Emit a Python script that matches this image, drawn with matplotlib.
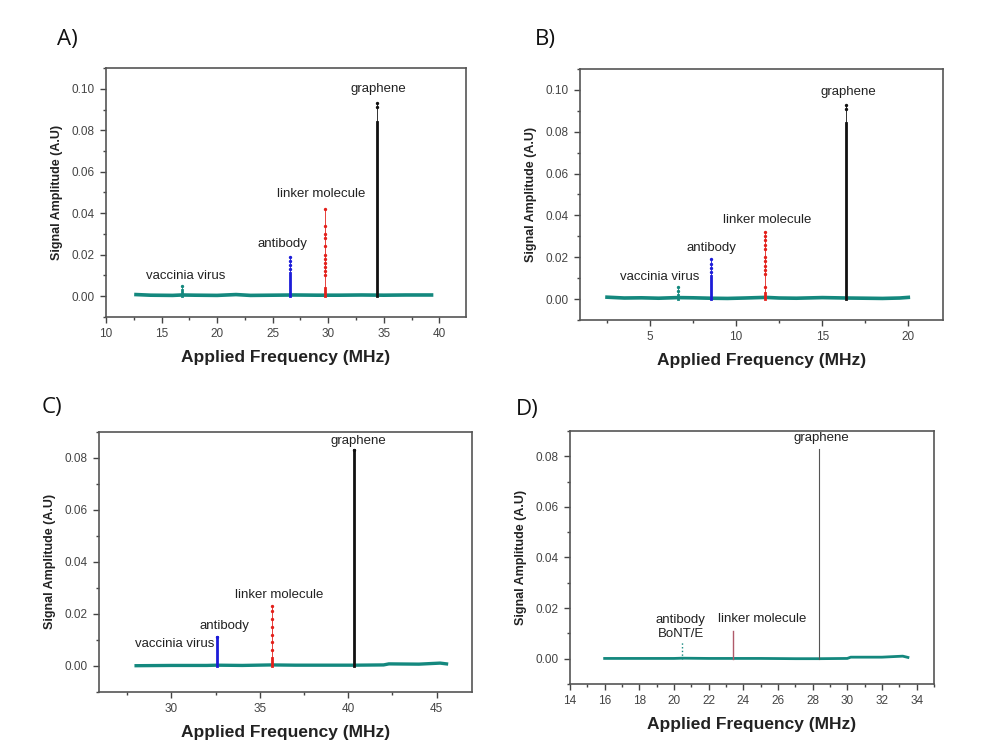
import numpy as np
import matplotlib
matplotlib.use('Agg')
import matplotlib.pyplot as plt
from matplotlib.ticker import MultipleLocator

plt.rcParams['font.family'] = ['Liberation Sans', 'DejaVu Sans']

TEAL = '#14887e'
BLUE = '#1c1cd8'
RED = '#e3201b'
BLACK = '#111111'

# panel A
A_base_x = [12.7, 14, 16, 16.8, 18, 20, 21.7, 23, 25, 27, 29, 31, 33, 35, 37, 39.3]
A_base_y = [0.0008, 0.0005, 0.0004, 0.0006, 0.0005, 0.0004, 0.0008, 0.0004,
            0.0005, 0.0006, 0.0005, 0.0005, 0.0006, 0.0005, 0.0006, 0.0006]
A_peak_x = [16.85, 26.6, 29.67, 34.4]
A_peak_solid = [0.003, 0.011, 0.004, 0.084]
A_peak_dots = [[0.005], [0.013, 0.015, 0.017, 0.019],
               [0.010, 0.012, 0.014, 0.016, 0.018, 0.020, 0.024, 0.028, 0.030, 0.034, 0.042],
               [0.091, 0.093]]
A_labels = ['vaccinia virus', 'antibody', 'linker molecule', 'graphene']
A_label_x = [17.2, 25.9, 29.4, 34.5]
A_label_y = [0.0096, 0.025, 0.0495, 0.0998]

# panel B
B_base_x = [2.5, 3.5, 4.5, 5.5, 6.6, 7.5, 8.5, 9.5, 10.5, 11.7, 12.5, 13.5, 15.0, 16.4, 17.5, 18.5, 19.5, 20.0]
B_base_y = [0.0009, 0.0005, 0.0006, 0.0004, 0.0007, 0.0006, 0.0004, 0.0003, 0.0005,
            0.0008, 0.0005, 0.0004, 0.0007, 0.0005, 0.0004, 0.0003, 0.0005, 0.0008]
B_peak_x = [6.65, 8.55, 11.69, 16.38]
B_peak_solid = [0.002, 0.011, 0.003, 0.084]
B_peak_dots = [[0.004, 0.006], [0.013, 0.015, 0.017, 0.019],
               [0.006, 0.012, 0.014, 0.016, 0.018, 0.020, 0.024, 0.026, 0.028, 0.030, 0.032],
               [0.091, 0.093]]
B_labels = ['vaccinia virus', 'antibody', 'linker molecule', 'graphene']
B_label_x = [5.54, 8.55, 11.78, 16.5]
B_label_y = [0.0105, 0.0246, 0.0377, 0.0989]

# panel C
C_base_x = [28.0, 30, 32, 32.57, 34, 35.66, 37, 39, 40.35, 42, 42.3, 44, 45.2, 45.56]
C_base_y = [0.0000, 0.0001, 0.0001, 0.0002, 0.0001, 0.0003, 0.0002, 0.0002, 0.0002,
            0.0003, 0.0007, 0.0006, 0.0010, 0.0007]
C_peak_x = [32.57, 35.66, 40.35]
C_peak_solid = [0.011, 0.003, 0.083]
C_peak_dots = [[0.011], [0.006, 0.009, 0.012, 0.015, 0.018, 0.021, 0.023], [0.083]]
C_peak_color = [BLUE, RED, BLACK]
C_labels = ['vaccinia virus', 'antibody', 'linker molecule', 'graphene']
C_label_x = [30.19, 33.0, 36.1, 40.55]
C_label_y = [0.0084, 0.0154, 0.0272, 0.0864]

# panel D
D_base_x = [16.0, 18, 20, 20.48, 22, 23.39, 25, 27, 28.39, 30.0, 30.2, 32, 33.2, 33.5]
D_base_y = [0.0001, 0.0001, 0.0001, 0.0002, 0.0001, 0.0001, 0.0001, 0.0000, 0.0000,
            0.0001, 0.0006, 0.0006, 0.0010, 0.0005]
D_peak_x = [20.48, 23.39, 28.39]
D_peak_top = [0.007, 0.011, 0.083]
D_labels = ['antibody', 'BoNT/E', 'linker molecule', 'graphene']
D_label_x = [20.39, 20.4, 25.1, 28.5]
D_label_y = [0.0154, 0.0099, 0.0156, 0.0872]


def style_axes(ax, xlim, ylim, xmajor, xminor, yticks):
    ax.set_xlim(*xlim)
    ax.set_ylim(*ylim)
    ax.xaxis.set_major_locator(MultipleLocator(xmajor))
    ax.xaxis.set_minor_locator(MultipleLocator(xminor))
    ax.set_yticks(yticks)
    ax.yaxis.set_minor_locator(MultipleLocator(0.01))
    ax.set_yticklabels(['%.2f' % t for t in yticks])
    ax.tick_params(which='both', direction='out', colors='#444444', labelsize=8.5,
                   top=False, right=False, width=1)
    ax.tick_params(which='major', length=4.5)
    ax.tick_params(which='minor', length=2.5)
    for s in ax.spines.values():
        s.set_color('#555555')
        s.set_linewidth(1.2)
    ax.set_xlabel('Applied Frequency (MHz)', fontsize=12.5, fontweight='bold',
                  color='#222222', labelpad=7)
    ax.set_ylabel('Signal Amplitude (A.U)', fontsize=9, fontweight='bold',
                  color='#222222', labelpad=6)


def draw_peak(ax, x, solid, dots, color):
    top = max(dots + [solid])
    ax.plot([x, x], [0, top], color=color, lw=0.6, zorder=3)
    ax.plot([x, x], [0, solid], color=color, lw=2.0, zorder=3)
    ax.plot([x] * len(dots), dots, 'o', color=color, ms=1.4, zorder=4)


def add_labels(ax, labels, xs, ys):
    for t, x, y in zip(labels, xs, ys):
        ax.text(x, y, t, ha='center', va='center', fontsize=9.5, color='#222222')


fig = plt.figure(figsize=(10.01, 7.49), dpi=100)

# A
axA = fig.add_axes([0.1059, 0.5768, 0.3596, 0.3324])
axA.plot(A_base_x, A_base_y, color=TEAL, lw=2.6, zorder=2)
for x, s, d, c in zip(A_peak_x, A_peak_solid, A_peak_dots, [TEAL, BLUE, RED, BLACK]):
    draw_peak(axA, x, s, d, c)
add_labels(axA, A_labels, A_label_x, A_label_y)
style_axes(axA, (10, 42.4), (-0.01, 0.11), 5, 2.5, [0.0, 0.02, 0.04, 0.06, 0.08, 0.10])

# B
axB = fig.add_axes([0.5794, 0.5728, 0.3624, 0.3351])
axB.plot(B_base_x, B_base_y, color=TEAL, lw=2.6, zorder=2)
for x, s, d, c in zip(B_peak_x, B_peak_solid, B_peak_dots, [TEAL, BLUE, RED, BLACK]):
    draw_peak(axB, x, s, d, c)
add_labels(axB, B_labels, B_label_x, B_label_y)
style_axes(axB, (0.93, 22.0), (-0.01, 0.11), 5, 2.5, [0.0, 0.02, 0.04, 0.06, 0.08, 0.10])

# C
axC = fig.add_axes([0.0989, 0.0765, 0.3726, 0.3471])
axC.plot(C_base_x, C_base_y, color=TEAL, lw=2.4, zorder=2)
for x, s, d, c in zip(C_peak_x, C_peak_solid, C_peak_dots, C_peak_color):
    draw_peak(axC, x, s, d, c)
add_labels(axC, C_labels, C_label_x, C_label_y)
style_axes(axC, (25.9, 47.0), (-0.01, 0.09), 5, 2.5, [0.0, 0.02, 0.04, 0.06, 0.08])

# D
axD = fig.add_axes([0.5694, 0.0868, 0.3636, 0.3378])
axD.plot(D_base_x, D_base_y, color=TEAL, lw=2.0, zorder=2)
axD.plot([D_peak_x[0]] * 2, [0, D_peak_top[0]], color=TEAL, lw=1.0, ls=':', zorder=3)
axD.plot([D_peak_x[1]] * 2, [0, D_peak_top[1]], color='#b05a6a', lw=1.0, zorder=3)
axD.plot([D_peak_x[2]] * 2, [0, D_peak_top[2]], color='#555555', lw=0.8, zorder=3)
add_labels(axD, D_labels, D_label_x, D_label_y)
style_axes(axD, (14, 35), (-0.01, 0.09), 2, 1, [0.0, 0.02, 0.04, 0.06, 0.08])

# panel letters
for t, x, y in [('A)', 57, 40), ('B)', 535, 40), ('C)', 42, 408), ('D)', 516, 410)]:
    fig.text(x / 1001, 1 - y / 749, t, fontsize=16, ha='left', va='center',
             family=['Open Sans', 'DejaVu Sans'], color='#111111')

fig.savefig('out.png', dpi=100)
